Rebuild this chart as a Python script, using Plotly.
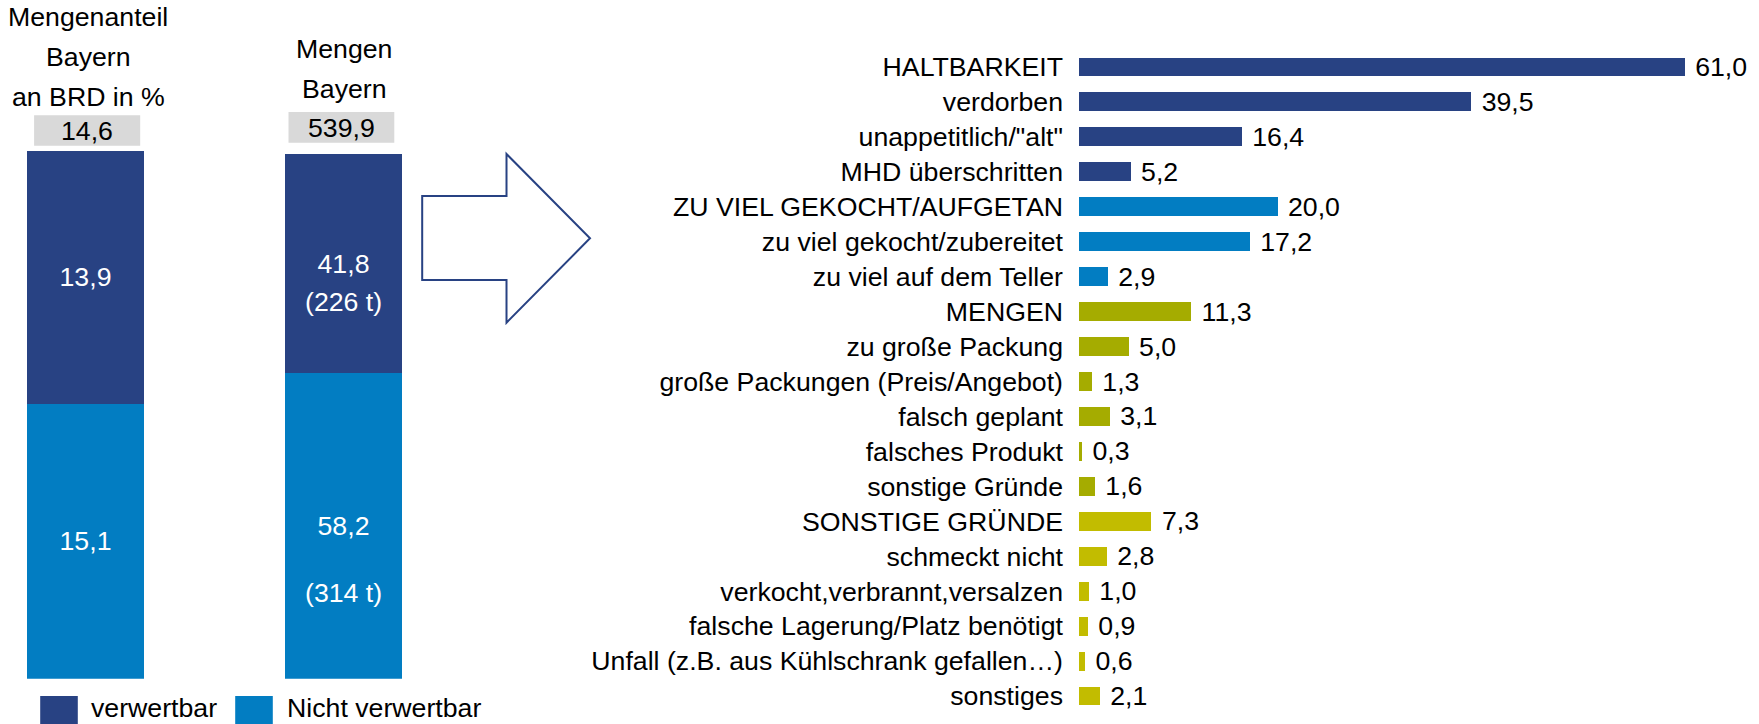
import plotly.graph_objects as go

# ---------------- data ----------------
left_cats = ["Mengenanteil Bayern an BRD in %", "Mengen Bayern"]
verwertbar = [13.9, 41.8]
nicht_verwertbar = [15.1, 58.2]
totals_label = ["14,6", "539,9"]
tonnes_verw = ["", "(226 t)"]
tonnes_nicht = ["", "(314 t)"]

reasons = [
    "HALTBARKEIT", "verdorben", "unappetitlich/\"alt\"", "MHD überschritten",
    "ZU VIEL GEKOCHT/AUFGETAN", "zu viel gekocht/zubereitet", "zu viel auf dem Teller",
    "MENGEN", "zu große Packung", "große Packungen (Preis/Angebot)", "falsch geplant",
    "falsches Produkt", "sonstige Gründe",
    "SONSTIGE GRÜNDE", "schmeckt nicht", "verkocht,verbrannt,versalzen",
    "falsche Lagerung/Platz benötigt", "Unfall (z.B. aus Kühlschrank gefallen…)", "sonstiges",
]
reason_values = [61.0, 39.5, 16.4, 5.2, 20.0, 17.2, 2.9, 11.3, 5.0, 1.3, 3.1, 0.3, 1.6,
                 7.3, 2.8, 1.0, 0.9, 0.6, 2.1]
reason_groups = ["halt"] * 4 + ["viel"] * 3 + ["mengen"] * 6 + ["sonst"] * 6

# ---------------- style ----------------
W, H = 1759, 724
NAVY = "#284283"
BLUE = "#027DC2"
OLIVE = "#A5AC00"
YELLOW = "#C2BC00"
GREY = "#D9D9D9"
FONT = "Liberation Sans, Arial, sans-serif"
FS = 26.7
group_colors = {"halt": NAVY, "viel": BLUE, "mengen": OLIVE, "sonst": YELLOW}


def px(x):
    return x / W


def py(y):
    return 1 - y / H


def fmt(v):
    return f"{v:.1f}".replace(".", ",")


fig = go.Figure()

# ---------- left stacked bars ----------
L_BOTTOM, L_TOP1, L_TOP2 = 678.7, 151.0, 154.0
for i, cat in enumerate(left_cats):
    yax = "y2" if i == 0 else "y3"
    fig.add_trace(go.Bar(
        x=[cat], y=[nicht_verwertbar[i]], xaxis="x2", yaxis=yax, width=0.453,
        marker=dict(color=BLUE, line=dict(width=0)),
        text=[fmt(nicht_verwertbar[i])], textposition="inside", insidetextanchor="middle",
        textfont=dict(color="white", size=FS, family=FONT), textangle=0,
        constraintext="none", showlegend=False, hoverinfo="skip"))
    fig.add_trace(go.Bar(
        x=[cat], y=[verwertbar[i]], xaxis="x2", yaxis=yax, width=0.453,
        marker=dict(color=NAVY, line=dict(width=0)),
        text=[fmt(verwertbar[i])], textposition="inside", insidetextanchor="middle",
        textfont=dict(color="white", size=FS, family=FONT), textangle=0,
        constraintext="none", showlegend=False, hoverinfo="skip"))

# ---------- right horizontal bars ----------
fig.add_trace(go.Bar(
    y=reasons, x=reason_values, orientation="h", width=0.54,
    marker=dict(color=[group_colors[g] for g in reason_groups], line=dict(width=0)),
    text=[" " + fmt(v) for v in reason_values], textposition="outside",
    textfont=dict(color="black", size=FS, family=FONT), constraintext="none",
    cliponaxis=False, showlegend=False, hoverinfo="skip"))

PXU = 9.93  # px per unit on right axis
X0 = 1079
ROW_TOP, ROW_BOT = 49.5, 713.5

cat_spacing = 258.0
c0 = 85.5

fig.update_layout(
    width=W, height=H, autosize=False,
    margin=dict(l=0, r=0, t=0, b=0),
    paper_bgcolor="white", plot_bgcolor="rgba(0,0,0,0)",
    barmode="stack",
    font=dict(family=FONT, size=FS, color="black"),
    xaxis=dict(domain=[px(X0), 1.0], range=[0, (W - X0) / PXU], visible=False),
    yaxis=dict(domain=[py(ROW_BOT), py(ROW_TOP)], type="category",
               categoryorder="array", categoryarray=reasons,
               range=[len(reasons) - 0.5, -0.5], showgrid=False, zeroline=False,
               showline=False, ticks="", ticklabelstandoff=15,
               tickfont=dict(size=FS, family=FONT, color="black")),
    xaxis2=dict(domain=[0, px(470)], type="category", categoryorder="array",
                categoryarray=left_cats, anchor="y2",
                range=[-c0 / cat_spacing, (470 - c0) / cat_spacing], visible=False),
    yaxis2=dict(domain=[py(L_BOTTOM), py(L_TOP1)], anchor="x2",
                range=[0, verwertbar[0] + nicht_verwertbar[0]], visible=False),
    yaxis3=dict(domain=[py(L_BOTTOM), py(L_TOP1)], anchor="x2", overlaying="y2",
                range=[0, (verwertbar[1] + nicht_verwertbar[1]) * (L_BOTTOM - L_TOP1) / (L_BOTTOM - L_TOP2)],
                visible=False),
)

annotations = []
shapes = []

# tonnes labels inside second bar
annotations.append(dict(x=left_cats[1], y=nicht_verwertbar[1] + verwertbar[1] / 2,
                        xref="x2", yref="y3", text=tonnes_verw[1], showarrow=False,
                        yshift=-38, font=dict(color="white", size=FS, family=FONT)))
annotations.append(dict(x=left_cats[1], y=nicht_verwertbar[1] / 2,
                        xref="x2", yref="y3", text=tonnes_nicht[1], showarrow=False,
                        yshift=-67, font=dict(color="white", size=FS, family=FONT)))

# headers
for txt, y in zip(["Mengenanteil", "Bayern", "an BRD in %"], [17, 57, 97]):
    annotations.append(dict(x=px(88), y=py(y), xref="paper", yref="paper", text=txt,
                            showarrow=False, xanchor="center", yanchor="middle",
                            font=dict(size=FS, family=FONT, color="black")))
for txt, y in zip(["Mengen", "Bayern"], [49, 89]):
    annotations.append(dict(x=px(344), y=py(y), xref="paper", yref="paper", text=txt,
                            showarrow=False, xanchor="center", yanchor="middle",
                            font=dict(size=FS, family=FONT, color="black")))

# grey total boxes
boxes = [(34.1, 140.2, 115.3, 145.7), (288.5, 394.3, 112.0, 142.7)]
for (x0, x1, y0, y1), lab in zip(boxes, totals_label):
    shapes.append(dict(type="rect", xref="paper", yref="paper",
                       x0=px(x0), x1=px(x1), y0=py(y1), y1=py(y0),
                       fillcolor=GREY, line=dict(width=0), layer="below"))
    annotations.append(dict(x=px((x0 + x1) / 2), y=py((y0 + y1) / 2 + 0.5),
                            xref="paper", yref="paper", text=lab, showarrow=False,
                            xanchor="center", yanchor="middle",
                            font=dict(size=FS, family=FONT, color="black")))

# arrow outline
pts = [(422.2, 196), (506.5, 196), (506.5, 154), (590, 238.3), (506.5, 322.7),
       (506.5, 280), (422.2, 280)]
path = "M " + " L ".join(f"{px(a):.5f},{py(b):.5f}" for a, b in pts) + " Z"
shapes.append(dict(type="path", xref="paper", yref="paper", path=path,
                   fillcolor="white", line=dict(color=NAVY, width=2)))

# manual legend
legend_items = [("verwertbar", NAVY, 40.2, 77.8, 89.3),
                ("Nicht verwertbar", BLUE, 235.2, 272.8, 285.4)]
for lab, col, sx0, sx1, tx in legend_items:
    shapes.append(dict(type="rect", xref="paper", yref="paper",
                       x0=px(sx0), x1=px(sx1), y0=py(724), y1=py(696),
                       fillcolor=col, line=dict(width=0)))
    annotations.append(dict(x=px(tx), y=py(707.5), xref="paper", yref="paper",
                            text=lab, showarrow=False, xanchor="left", yanchor="middle",
                            font=dict(size=FS, family=FONT, color="black")))

fig.update_layout(annotations=annotations, shapes=shapes)

fig.write_html(
    "out.html",
    config={"displayModeBar": False},
    post_script="document.body.style.margin='0px';document.body.style.padding='0px';"
                "document.body.style.overflow='hidden';",
)
